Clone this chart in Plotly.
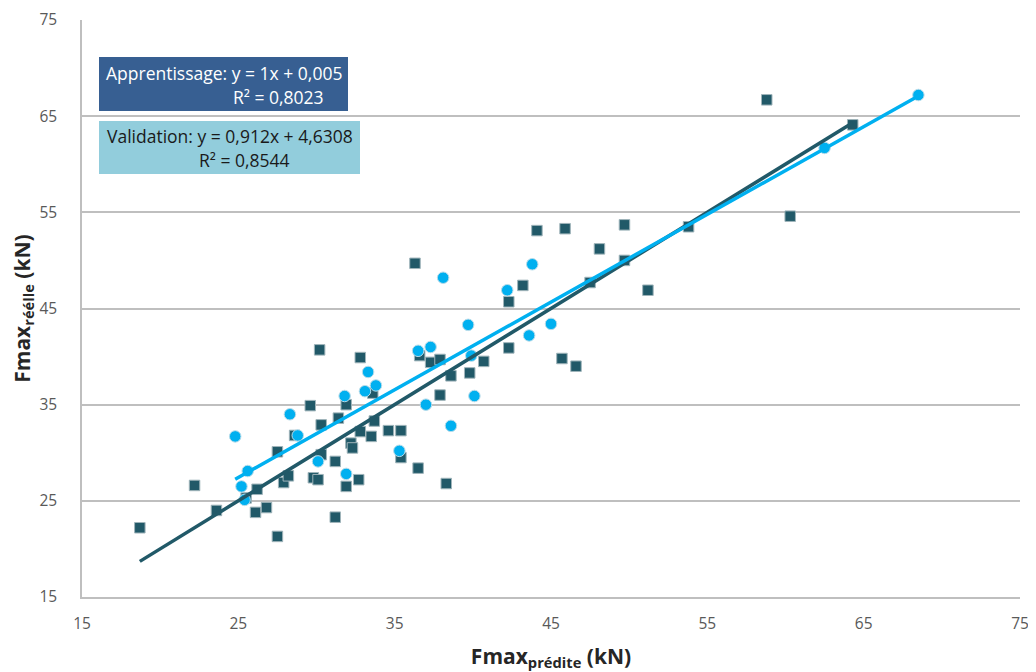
import plotly.graph_objects as go

# Apprentissage (training) data
train_pred = [18.7, 22.2, 23.6, 25.5, 26.2, 26.1, 26.8, 27.5, 27.5, 27.9, 28.2, 28.6, 29.6, 29.8,
              30.1, 30.2, 30.3, 30.3, 31.2, 31.2, 31.4, 31.9, 31.9, 32.2, 32.3, 32.7, 32.8, 32.8,
              33.5, 33.7, 33.6, 34.6, 35.4, 35.4, 36.3, 36.5, 36.6, 37.3, 37.9, 37.9, 38.3, 38.6,
              39.8, 40.7, 42.3, 42.3, 43.2, 44.1, 45.7, 45.9, 46.6, 48.1, 47.5, 49.7, 49.7, 51.2,
              53.8, 58.8, 60.3, 64.3]
train_real = [22.2, 26.6, 24.0, 25.3, 26.2, 23.8, 24.3, 21.3, 30.1, 26.9, 27.6, 31.8, 34.9, 27.4,
              27.2, 40.7, 32.9, 29.8, 23.3, 29.1, 33.6, 35.0, 26.5, 31.0, 30.5, 27.2, 39.9, 32.2,
              31.7, 33.3, 36.2, 32.3, 29.5, 32.3, 49.7, 28.4, 40.1, 39.4, 39.7, 36.0, 26.8, 38.0,
              38.3, 39.5, 40.9, 45.7, 47.4, 53.1, 39.8, 53.3, 39.0, 51.2, 47.7, 53.7, 50.0, 46.9,
              53.5, 66.7, 54.6, 64.1]

# Validation data
val_pred = [24.8, 25.2, 25.4, 25.6, 28.3, 28.8, 30.1, 31.8, 31.9, 33.1, 33.3, 33.8, 35.3, 36.5,
            37.0, 37.3, 38.1, 38.6, 39.7, 39.9, 40.1, 42.2, 43.6, 43.8, 45.0, 62.5, 68.5]
val_real = [31.7, 26.5, 25.1, 28.1, 34.0, 31.8, 29.1, 35.9, 27.8, 36.4, 38.4, 37.0, 30.2, 40.6,
            35.0, 41.0, 48.2, 32.8, 43.3, 40.1, 35.9, 46.9, 42.2, 49.6, 43.4, 61.7, 67.2]

# Trendline equations shown on the chart
train_slope, train_intercept, train_r2 = 1.0, 0.005, 0.8023
val_slope, val_intercept, val_r2 = 0.912, 4.6308, 0.8544

axis_ticks = [15, 25, 35, 45, 55, 65, 75]

DARK = "#215968"
LIGHT = "#00B0F0"

fig = go.Figure()

fig.add_trace(go.Scatter(
    x=train_pred, y=train_real, mode="markers", name="Apprentissage",
    marker=dict(symbol="square", size=10.5, color=DARK, line=dict(color="#9fb4ba", width=1)),
))
fig.add_trace(go.Scatter(
    x=val_pred, y=val_real, mode="markers", name="Validation",
    marker=dict(symbol="circle", size=11.5, color=LIGHT, line=dict(color="#b8dcea", width=1)),
))

tx = [min(train_pred), max(train_pred)]
fig.add_trace(go.Scatter(
    x=tx, y=[train_slope * v + train_intercept for v in tx], mode="lines",
    line=dict(color=DARK, width=3.5), showlegend=False,
))
vx = [min(val_pred), max(val_pred)]
fig.add_trace(go.Scatter(
    x=vx, y=[val_slope * v + val_intercept for v in vx], mode="lines",
    line=dict(color=LIGHT, width=3.5), showlegend=False,
))

# page body has an 8px margin; figure is sized to fit the window
OFF = 8
W, H = 1036 - OFF, 672 - OFF
PL, PR, PT, PB = 82, 1020, 20, 597   # plot area in window pixels
L, R, T, B = PL - OFF, W - (PR - OFF), PT - OFF, H - (PB - OFF)
pw, ph = W - L - R, H - T - B


def px2paper(x, y):
    # x, y in window pixels
    return (x - PL) / pw, 1 - (y - PT) / ph


def fmt(v, d):
    return (f"{v:.{d}f}").replace(".", ",")


# Equation boxes
x0, y0 = px2paper(99, 57)
x1, y1 = px2paper(348, 111)
fig.add_shape(type="rect", xref="paper", yref="paper", x0=x0, y0=y1, x1=x1, y1=y0,
              fillcolor="#375F92", line=dict(width=0), layer="above")
x0, y0 = px2paper(99, 121)
x1, y1 = px2paper(360, 174)
fig.add_shape(type="rect", xref="paper", yref="paper", x0=x0, y0=y1, x1=x1, y1=y0,
              fillcolor="#92CDDC", line=dict(width=0), layer="above")

font_txt = "Open Sans"
fs_box = 17.5
ax_, ay_ = px2paper(344, 73)
fig.add_annotation(xref="paper", yref="paper", x=ax_, y=ay_, xanchor="right", yanchor="middle",
                   text=f"Apprentissage: y = {train_slope:g}x + {fmt(train_intercept, 3)}",
                   showarrow=False, font=dict(family=font_txt, size=fs_box, color="white"))
ax_, ay_ = px2paper(326, 97)
fig.add_annotation(xref="paper", yref="paper", x=ax_, y=ay_, xanchor="right", yanchor="middle",
                   text=f"R² = {fmt(train_r2, 4)}",
                   showarrow=False, font=dict(family=font_txt, size=fs_box, color="white"))
ax_, ay_ = px2paper(229.5, 136)
fig.add_annotation(xref="paper", yref="paper", x=ax_, y=ay_, xanchor="center", yanchor="middle",
                   text=f"Validation: y = {fmt(val_slope, 3)}x + {fmt(val_intercept, 4)}",
                   showarrow=False, font=dict(family=font_txt, size=fs_box, color="#1a1a1a"))
ax_, ay_ = px2paper(244, 160)
fig.add_annotation(xref="paper", yref="paper", x=ax_, y=ay_, xanchor="center", yanchor="middle",
                   text=f"R² = {fmt(val_r2, 4)}",
                   showarrow=False, font=dict(family=font_txt, size=fs_box, color="#1a1a1a"))

fig.update_layout(
    width=W, height=H,
    margin=dict(l=L, r=R, t=T, b=B),
    paper_bgcolor="white", plot_bgcolor="white",
    showlegend=False,
    font=dict(family=font_txt, color="#595959"),
    xaxis=dict(
        range=[15, 75], tickvals=axis_ticks, ticktext=[str(v) for v in axis_ticks],
        showgrid=False, zeroline=False, showline=True, linecolor="#BFBFBF", linewidth=1.5,
        ticks="", ticklabelstandoff=12, automargin=False,
        tickfont=dict(size=15.5, color="#595959", family=font_txt),
        title=dict(text="<b>Fmax<sub>prédite</sub> (kN)</b>", standoff=16,
                   font=dict(size=21, color="#262626", family=font_txt)),
    ),
    yaxis=dict(
        range=[15, 75], tickvals=axis_ticks, ticktext=[str(v) for v in axis_ticks],
        showgrid=True, gridcolor="#BFBFBF", gridwidth=1.5, zeroline=False,
        showline=True, linecolor="#BFBFBF", linewidth=1.5,
        ticks="", ticklabelstandoff=20, automargin=False,
        tickfont=dict(size=15.5, color="#595959", family=font_txt),
        title=dict(text="<b>Fmax<sub>réélle</sub> (kN)</b>", standoff=6,
                   font=dict(size=21, color="#262626", family=font_txt)),
    ),
)

fig.write_html("out.html")
